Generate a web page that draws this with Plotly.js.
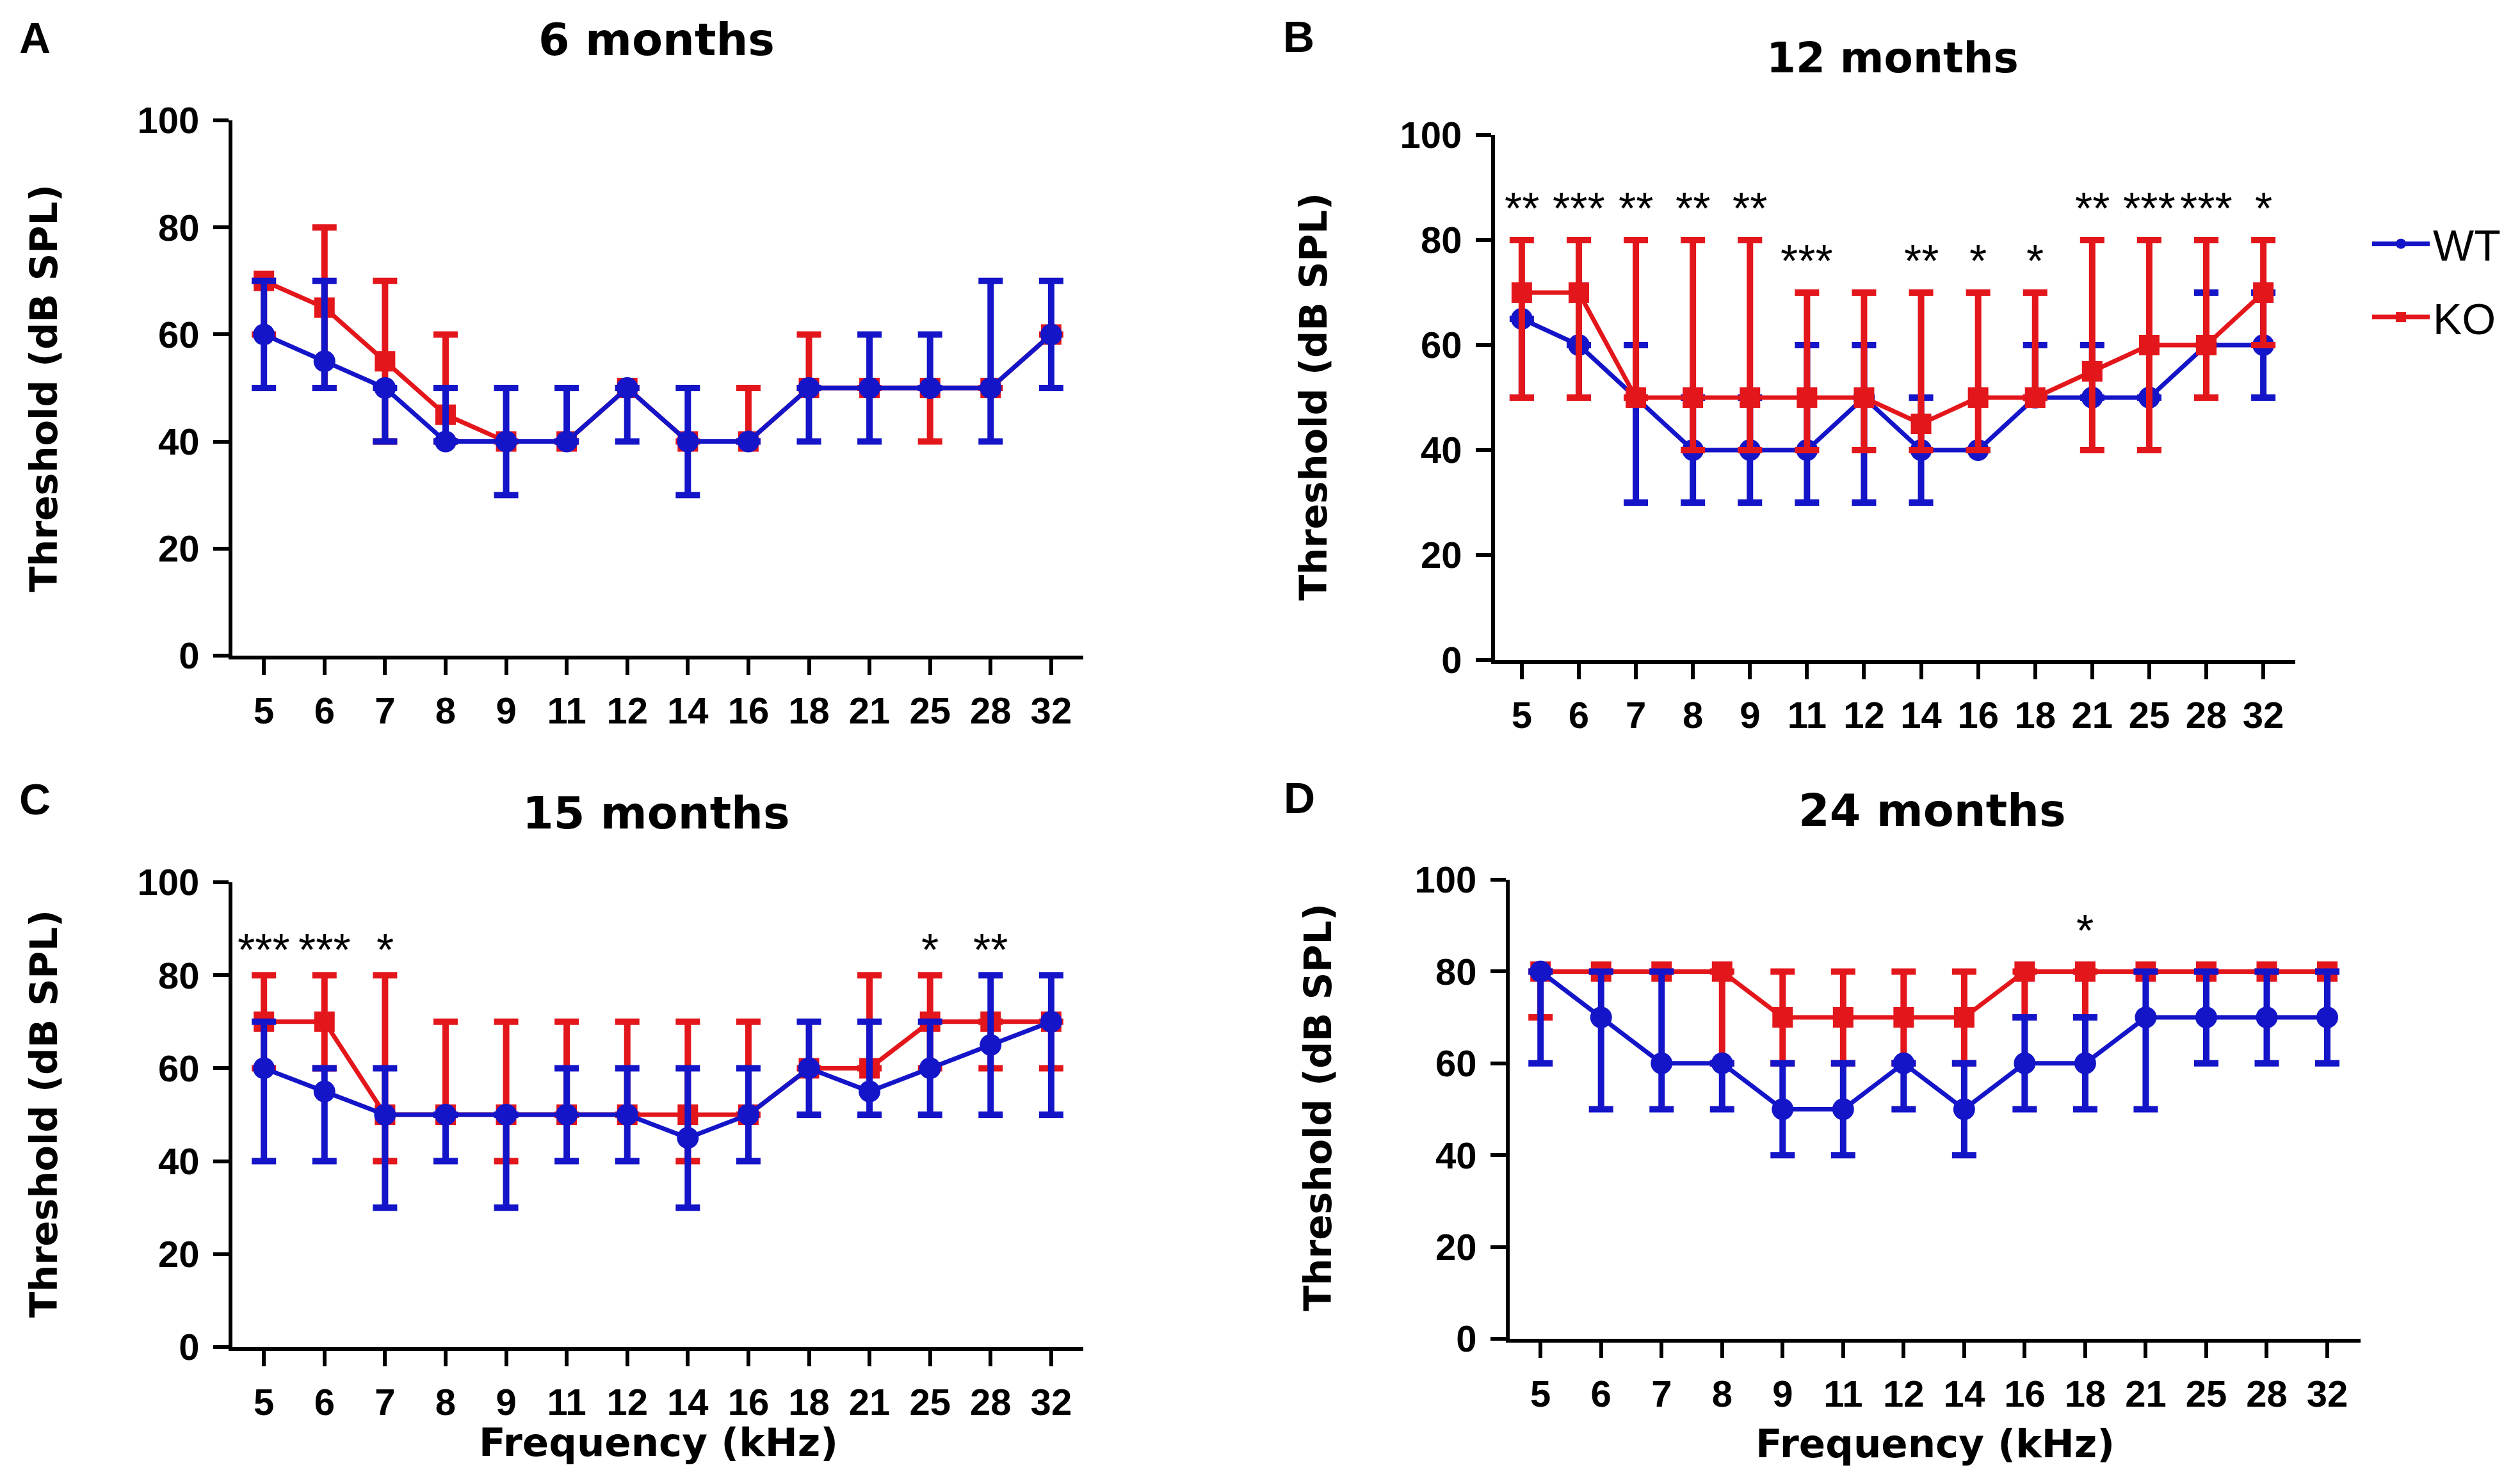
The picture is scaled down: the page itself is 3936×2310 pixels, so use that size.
<!DOCTYPE html>
<html>
<head>
<meta charset="utf-8">
<script src="https://cdn.plot.ly/plotly-3.0.1.min.js"></script>
<style>html,body{margin:0;padding:0;background:#fff;}#chart{width:3936px;height:2310px;}</style>
</head>
<body>
<div id="chart"></div>
<script>
// ---------- DATA ----------
const freqs = ['5','6','7','8','9','11','12','14','16','18','21','25','28','32'];
const yTicks = [0, 20, 40, 60, 80, 100];

// 6 months
const wt6   = [60,55,50,40,40,40,50,40,40,50,50,50,50,60];
const wt6Hi = [70,70,50,50,50,50,50,50,40,50,60,60,70,70];
const wt6Lo = [50,50,40,40,30,40,40,30,40,40,40,50,40,50];
const ko6   = [70,65,55,45,40,40,50,40,40,50,50,50,50,60];
const ko6Hi = [70,80,70,60,40,40,50,40,50,60,50,50,50,60];
const ko6Lo = [60,50,40,40,40,40,50,40,40,50,50,40,50,60];
const stars6 = ['','','','','','','','','','','','','',''];

// 12 months
const wt12   = [65,60,50,40,40,40,50,40,40,50,50,50,60,60];
const wt12Hi = [65,60,60,50,50,60,60,50,40,60,60,50,70,70];
const wt12Lo = [50,50,30,30,30,30,30,30,40,50,50,50,50,50];
const ko12   = [70,70,50,50,50,50,50,45,50,50,55,60,60,70];
const ko12Hi = [80,80,80,80,80,70,70,70,70,70,80,80,80,80];
const ko12Lo = [50,50,50,40,40,40,40,40,40,50,40,40,50,60];
const stars12 = ['**','***','**','**','**','***','','**','*','*','**','***','***','*'];

// 15 months
const wt15   = [60,55,50,50,50,50,50,45,50,60,55,60,65,70];
const wt15Hi = [70,60,60,50,50,60,60,60,60,70,70,70,80,80];
const wt15Lo = [40,40,30,40,30,40,40,30,40,50,50,50,50,50];
const ko15   = [70,70,50,50,50,50,50,50,50,60,60,70,70,70];
const ko15Hi = [80,80,80,70,70,70,70,70,70,60,80,80,70,70];
const ko15Lo = [60,60,40,50,40,50,50,40,50,60,60,60,60,60];
const stars15 = ['***','***','*','','','','','','','','','*','**',''];

// 24 months
const wt24   = [80,70,60,60,50,50,60,50,60,60,70,70,70,70];
const wt24Hi = [80,80,80,60,60,60,60,60,70,70,80,80,80,80];
const wt24Lo = [60,50,50,50,40,40,50,40,50,50,50,60,60,60];
const ko24   = [80,80,80,80,70,70,70,70,80,80,80,80,80,80];
const ko24Hi = [80,80,80,80,80,80,80,80,80,80,80,80,80,80];
const ko24Lo = [70,80,80,60,60,60,60,60,70,70,80,80,80,80];
const stars24 = ['','','','','','','','','','*','','','',''];

const panelTitles = ['6 months', '12 months', '15 months', '24 months'];
const panelLetters = ['A', 'B', 'C', 'D'];
const yTitle = 'Threshold (dB SPL)';
const xTitle = 'Frequency (kHz)';
const seriesNames = ['WT', 'KO'];

// ---------- STYLE / LAYOUT ----------
const W = 3936, H = 2310;
const BLUE = '#1414c8', RED = '#e3161b';
const px = v => v / W;
const py = v => 1 - v / H;

const panels = [
  {x0:363,  x1:1692, yT:188,  yB:1024, xr:[-0.52,13.53], blueTop:true,  starShift:0,
   wt:wt6, wtHi:wt6Hi, wtLo:wt6Lo, ko:ko6, koHi:ko6Hi, koLo:ko6Lo, stars:stars6,
   title:{x:1025,y:62,size:70}, letter:{x:54,y:59}, yt:{x:68,y:607}, xt:null},
  {x0:2335, x1:3585, yT:211,  yB:1031, xr:[-0.47,13.56], blueTop:false, starShift:49,
   wt:wt12, wtHi:wt12Hi, wtLo:wt12Lo, ko:ko12, koHi:ko12Hi, koLo:ko12Lo, stars:stars12,
   title:{x:2956,y:90,size:66}, letter:{x:2028,y:57}, yt:{x:2051,y:620}, xt:null},
  {x0:363,  x1:1692, yT:1378, yB:2104, xr:[-0.52,13.53], blueTop:true,  starShift:39,
   wt:wt15, wtHi:wt15Hi, wtLo:wt15Lo, ko:ko15, koHi:ko15Hi, koLo:ko15Lo, stars:stars15,
   title:{x:1025,y:1270,size:70}, letter:{x:54,y:1248}, yt:{x:68,y:1740}, xt:{x:1028,y:2252}},
  {x0:2358, x1:3687, yT:1374, yB:2091, xr:[-0.51,13.55], blueTop:true,  starShift:63,
   wt:wt24, wtHi:wt24Hi, wtLo:wt24Lo, ko:ko24, koHi:ko24Hi, koLo:ko24Lo, stars:stars24,
   title:{x:3018,y:1266,size:70}, letter:{x:2029,y:1246}, yt:{x:2058,y:1730}, xt:{x:3022,y:2254}}
];

const tickFont = {family:'Liberation Sans, Arial, sans-serif', size:58, color:'#000', weight:'bold'};
const titleFam = 'DejaVu Sans, Verdana, sans-serif';

const data = [];
const annotations = [];
const layout = {
  width: W, height: H,
  margin: {l:0, r:0, t:0, b:0},
  paper_bgcolor: '#fff', plot_bgcolor: '#fff',
  showlegend: true,
  legend: {
    x: px(3700), xanchor: 'left', y: py(330), yanchor: 'top',
    font: {family:'Liberation Sans, Arial, sans-serif', size:68, color:'#000'},
    itemwidth: 90, tracegroupgap: 23, bgcolor: 'rgba(0,0,0,0)', borderwidth: 0
  },
  annotations: annotations
};

panels.forEach((p, i) => {
  const n = i + 1;
  const xa = 'x' + (n === 1 ? '' : n), ya = 'y' + (n === 1 ? '' : n);
  const xk = 'xaxis' + (n === 1 ? '' : n), yk = 'yaxis' + (n === 1 ? '' : n);
  const axCommon = {showline:true, linewidth:6, linecolor:'#000', ticks:'outside',
    ticklen:24, tickwidth:6, tickcolor:'#000', showgrid:false, zeroline:false,
    tickfont: tickFont, fixedrange:true};
  layout[xk] = Object.assign({}, axCommon, {
    domain:[px(p.x0), px(p.x1)], anchor: ya, type:'category',
    categoryorder:'array', categoryarray: freqs, range: p.xr,
    ticklabelstandoff: 6
  });
  layout[yk] = Object.assign({}, axCommon, {
    domain:[py(p.yB), py(p.yT)], anchor: xa, range:[0,100],
    tickmode:'array', tickvals: yTicks, ticklabelstandoff: 10
  });

  const mk = (name, vals, hi, lo, color, symbol, size) => ({
    type:'scatter', mode:'lines+markers', name: name,
    x: freqs, y: vals, xaxis: xa, yaxis: ya,
    legendgroup: name, legendrank: name === 'WT' ? 1 : 2,
    showlegend: n === 2,
    line: {color: color, width: 7},
    marker: {color: color, size: size, symbol: symbol},
    error_y: {type:'data', symmetric:false,
      array: hi.map((h, k) => h - vals[k]),
      arrayminus: lo.map((l, k) => vals[k] - l),
      color: color, thickness: 10, width: 19},
    cliponaxis: false
  });
  const wtTr = mk(seriesNames[0], p.wt, p.wtHi, p.wtLo, BLUE, 'circle', 34);
  const koTr = mk(seriesNames[1], p.ko, p.koHi, p.koLo, RED, 'square', 32);
  if (p.blueTop) { data.push(koTr, wtTr); } else { data.push(wtTr, koTr); }

  // significance stars, placed above the taller error bar (x given as category index)
  p.stars.forEach((s, k) => {
    if (!s) return;
    annotations.push({xref: xa, yref: ya, x: k, y: Math.max(p.wtHi[k], p.koHi[k]),
      text: s, showarrow:false, xanchor:'center', yanchor:'middle', yshift: p.starShift,
      font:{family:'Liberation Sans, Arial, sans-serif', size:70, color:'#000'}});
  });

  annotations.push({xref:'paper', yref:'paper', x:px(p.title.x), y:py(p.title.y),
    text: panelTitles[i], showarrow:false, xanchor:'center', yanchor:'middle',
    font:{family:titleFam, size:p.title.size, color:'#000', weight:'bold'}});
  annotations.push({xref:'paper', yref:'paper', x:px(p.letter.x), y:py(p.letter.y),
    text: panelLetters[i], showarrow:false, xanchor:'center', yanchor:'middle',
    font:{family:'Liberation Sans, Arial, sans-serif', size:68, color:'#000', weight:'bold'}});
  annotations.push({xref:'paper', yref:'paper', x:px(p.yt.x), y:py(p.yt.y),
    text: yTitle, showarrow:false, xanchor:'center', yanchor:'middle', textangle:-90,
    font:{family:titleFam, size:59, color:'#000', weight:'bold'}});
  if (p.xt) {
    annotations.push({xref:'paper', yref:'paper', x:px(p.xt.x), y:py(p.xt.y),
      text: xTitle, showarrow:false, xanchor:'center', yanchor:'middle',
      font:{family:titleFam, size:61, color:'#000', weight:'bold'}});
  }
});

Plotly.newPlot('chart', data, layout, {staticPlot:true, displayModeBar:false});
</script>
</body>
</html>
